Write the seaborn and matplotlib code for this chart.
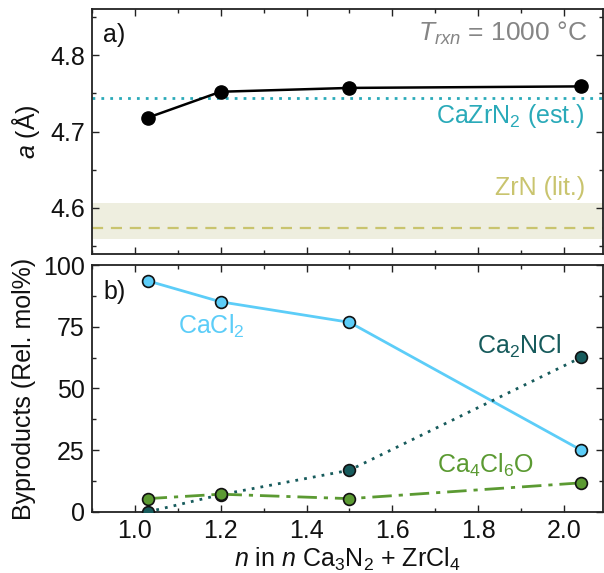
import matplotlib
matplotlib.use("Agg")
import matplotlib.pyplot as plt
from matplotlib.ticker import MultipleLocator
import seaborn as sns
import pandas as pd

# ---- data ----
n_vals = [1.03, 1.2, 1.5, 2.04]
lattice_a = [4.718, 4.752, 4.757, 4.759]
cazrn2_est = 4.744
zrn_lit = 4.574
zrn_band = [4.559, 4.607]
cacl2 = [93.6, 85.1, 76.8, 25.0]
ca2ncl = [0.0, 7.0, 16.9, 62.6]
ca4cl6o = [5.4, 7.2, 5.4, 11.8]

sns.set_theme(style="ticks")
plt.rcParams['font.family'] = ['Liberation Sans', 'DejaVu Sans']
plt.rcParams['mathtext.fontset'] = 'custom'
plt.rcParams['mathtext.rm'] = 'Liberation Sans'
plt.rcParams['mathtext.it'] = 'Liberation Sans:italic'
plt.rcParams['mathtext.default'] = 'regular'

FS = 18
fig = plt.figure(figsize=(6.04, 5.73), dpi=100)
ax1 = fig.add_axes([0.152, 0.557, 0.846, 0.427])
ax2 = fig.add_axes([0.152, 0.1065, 0.846, 0.431])

def style(ax):
    ax.tick_params(which='both', direction='in', top=True, right=True,
                   labelsize=FS, colors='#222222', labelcolor='#111111', pad=5)
    ax.tick_params(which='major', length=5, width=1.0)
    ax.tick_params(which='minor', length=3, width=1.0)
    for s in ax.spines.values():
        s.set_linewidth(1.3)
        s.set_color('#222222')
    ax.xaxis.set_major_locator(MultipleLocator(0.2))
    ax.xaxis.set_minor_locator(MultipleLocator(0.1))
    ax.set_xlim(0.9, 2.09)

# ---- panel a ----
df_a = pd.DataFrame({'n': n_vals, 'a': lattice_a})
ax1.axhspan(zrn_band[0], zrn_band[1], color='#EEEEDF', lw=0, zorder=0)
ax1.axhline(zrn_lit, color='#C9C46E', ls=(0, (5, 3.5)), lw=1.6, zorder=1)
ax1.axhline(cazrn2_est, color='#2AAAB9', ls=(0, (1, 2.2)), lw=2.0, zorder=1)
sns.lineplot(data=df_a, x='n', y='a', ax=ax1, color='black', lw=1.8,
             marker='o', markersize=9.5, markeredgecolor='black',
             markeredgewidth=1, sort=False, zorder=3)
style(ax1)
ax1.set_ylim(4.54, 4.86)
ax1.yaxis.set_major_locator(MultipleLocator(0.1))
ax1.yaxis.set_minor_locator(MultipleLocator(0.05))
ax1.set_yticks([4.6, 4.7, 4.8])
ax1.tick_params(labelbottom=False)
ax1.set_xlabel('')
ax1.set_ylabel('$\\it{a}$ (Å)', fontsize=FS, color='#111111', labelpad=6)
ax1.text(0.022, 0.894, 'a)', transform=ax1.transAxes, fontsize=FS,
         ha='left', va='center', color='#111111')
ax1.text(0.969, 0.902, '$\\it{T_{rxn}}$ = 1000 °C', transform=ax1.transAxes,
         fontsize=FS + 1, ha='right', va='center', color='#858585')
ax1.text(0.965, 4.72, 'CaZrN$_2$ (est.)', transform=ax1.get_yaxis_transform(),
         fontsize=FS, ha='right', va='center', color='#2AAAB9')
ax1.text(0.965, 4.626, 'ZrN (lit.)', transform=ax1.get_yaxis_transform(),
         fontsize=FS, ha='right', va='center', color='#C9C46E')

# ---- panel b ----
df_b = pd.DataFrame({'n': n_vals, 'CaCl2': cacl2, 'Ca2NCl': ca2ncl,
                     'Ca4Cl6O': ca4cl6o})
sns.lineplot(data=df_b, x='n', y='CaCl2', ax=ax2, color='#5CCDF8', lw=2.0,
             marker='o', markersize=8.5, markerfacecolor='#5CCDF8',
             markeredgecolor='#111111', markeredgewidth=1.2, sort=False,
             zorder=3)
sns.lineplot(data=df_b, x='n', y='Ca2NCl', ax=ax2, color='#175B5C', lw=2.0,
             ls=(0, (1, 2.2)), marker='o', markersize=8.5,
             markerfacecolor='#175B5C', markeredgecolor='#111111',
             markeredgewidth=1.2, sort=False, zorder=3)
sns.lineplot(data=df_b, x='n', y='Ca4Cl6O', ax=ax2, color='#5B9A32', lw=2.0,
             ls=(0, (7, 2.5, 1.5, 2.5)), marker='o', markersize=8.5,
             markerfacecolor='#5B9A32', markeredgecolor='#111111',
             markeredgewidth=1.2, sort=False, zorder=4)
style(ax2)
ax2.set_ylim(0, 100)
ax2.yaxis.set_major_locator(MultipleLocator(25))
ax2.yaxis.set_minor_locator(MultipleLocator(12.5))
ax2.set_xlabel('$\\it{n}$ in $\\it{n}$ Ca$_3$N$_2$ + ZrCl$_4$', fontsize=FS,
               color='#111111', labelpad=2)
ax2.set_ylabel('Byproducts (Rel. mol%)', fontsize=FS, color='#111111',
               labelpad=5)
ax2.text(0.022, 89.2, 'b)', transform=ax2.get_yaxis_transform(), fontsize=FS,
         ha='left', va='center', color='#111111')
ax2.text(1.178, 75, 'CaCl$_2$', fontsize=FS, ha='center', va='center',
         color='#5CCDF8')
ax2.text(1.895, 66.9, 'Ca$_2$NCl', fontsize=FS, ha='center', va='center',
         color='#175B5C')
ax2.text(1.818, 18.9, 'Ca$_4$Cl$_6$O', fontsize=FS, ha='center', va='center',
         color='#5B9A32')

fig.savefig('out.png', dpi=100)
